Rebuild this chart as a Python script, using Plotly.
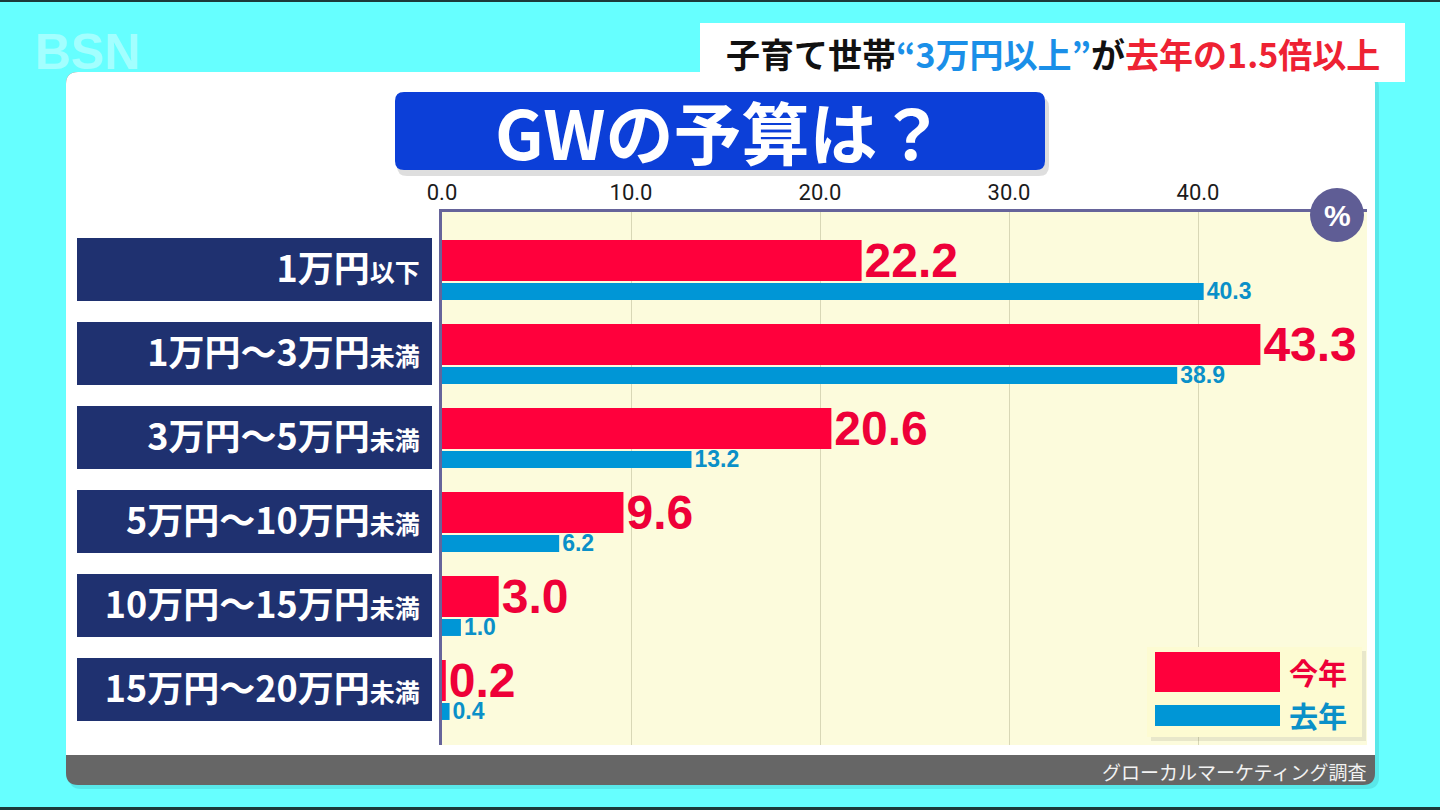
import plotly.graph_objects as go

# -------------------------------
# Data (read off the broadcast graphic)
# -------------------------------
cat_main = ["1万円", "1万円～3万円", "3万円～5万円", "5万円～10万円", "10万円～15万円", "15万円～20万円"]
cat_suffix = ["以下", "未満", "未満", "未満", "未満", "未満"]
this_year = [22.2, 43.3, 20.6, 9.6, 3.0, 0.2]
last_year = [40.3, 38.9, 13.2, 6.2, 1.0, 0.4]
series_names = ["今年", "去年"]
x_ticks = [0, 10, 20, 30, 40]

RED = "#ff003c"
RED_TXT = "#ee0038"
BLUE = "#0096d6"
BLUE_TXT = "#0a90c8"
NAVY = "#1f3170"
AXIS = "#66649a"
JP = "Noto Sans CJK JP"

# figure / plot-area geometry in pixels
W, H = 1440, 810
PL, PR, PT, PB = 442, 1367, 212, 745


def px_x(px):
    return (px - PL) / (PR - PL)


def px_y(py):
    return (PB - py) / (PB - PT)


def rrect(x0, y0, x1, y1, r):
    # rounded rectangle path in paper coords, given pixel corners
    pts = [
        ("M", [(x0 + r, y0)]), ("L", [(x1 - r, y0)]), ("Q", [(x1, y0), (x1, y0 + r)]),
        ("L", [(x1, y1 - r)]), ("Q", [(x1, y1), (x1 - r, y1)]),
        ("L", [(x0 + r, y1)]), ("Q", [(x0, y1), (x0, y1 - r)]),
        ("L", [(x0, y0 + r)]), ("Q", [(x0, y0), (x0 + r, y0)]),
    ]
    out = ""
    for cmd, ps in pts:
        out += cmd + " ".join(f"{px_x(a):.5f},{px_y(b):.5f}" for a, b in ps) + " "
    return out + "Z"


def box(x0, y0, x1, y1, color, layer="below"):
    return dict(type="rect", xref="paper", yref="paper", layer=layer,
                x0=px_x(x0), x1=px_x(x1), y0=px_y(y1), y1=px_y(y0),
                fillcolor=color, line=dict(width=0))


def path(p, color, layer="below"):
    return dict(type="path", xref="paper", yref="paper", layer=layer,
                path=p, fillcolor=color, line=dict(width=0))


def note(px, py, text, size, color, family=JP, anchor="center"):
    return dict(xref="paper", yref="paper", x=px_x(px), y=px_y(py),
                xanchor=anchor, yanchor="middle", text=text, showarrow=False,
                font=dict(family=family, size=size, color=color))


rows = list(range(len(cat_main)))
ticktext = [f"<b>{m}<span style='font-size:25px'>{s}</span></b>" for m, s in zip(cat_main, cat_suffix)]

fig = go.Figure()
fig.add_trace(go.Bar(
    y=rows, x=this_year, orientation="h", name=series_names[0],
    marker=dict(color=RED, line=dict(width=0)),
    offset=-0.351, width=0.488,
    texttemplate="%{x:.1f}", textposition="outside", constraintext="none",
    textfont=dict(family="Liberation Sans", size=48, color=RED_TXT, weight="bold"),
    cliponaxis=False,
))
fig.add_trace(go.Bar(
    y=rows, x=last_year, orientation="h", name=series_names[1],
    marker=dict(color=BLUE, line=dict(width=0)),
    offset=0.161, width=0.202,
    texttemplate="%{x:.1f}", textposition="outside", constraintext="none",
    textfont=dict(family="Liberation Sans", size=23, color=BLUE_TXT, weight="bold"),
    cliponaxis=False,
))

shapes = [
    # frame lines
    box(0, 0, W, 2, "#1c3b3b"),
    box(0, 807, W, H, "#1c3b3b"),
    # panel shadow, footer, white panel
    path(rrect(69, 76, 1379, 789, 12), "rgba(0,60,70,0.12)"),
    path(rrect(66, 72, 1375, 785, 12), "#666666"),
    path(rrect(66, 72, 1375, 755, 12), "#ffffff"),
    box(66, 740, 1375, 755, "#ffffff"),
    # cream plot area
    box(PL, PT, PR, PB, "#fcfbdc"),
    # title shadow + box
    path(rrect(397, 97, 1049, 176, 10), "rgba(0,0,0,0.13)"),
    path(rrect(395, 92, 1045, 170, 9), "#0c3fd8"),
    # caption box
    box(700, 23, 1405, 82, "#ffffff", layer="above"),
]
# navy category label boxes
for i in rows:
    shapes.append(dict(type="rect", xref="paper", yref="y", layer="below",
                       x0=px_x(77), x1=px_x(432), y0=i - 0.375, y1=i + 0.375,
                       fillcolor=NAVY, line=dict(width=0)))
# percent badge
shapes.append(dict(type="circle", xref="paper", yref="paper", layer="above",
                   x0=px_x(1310), x1=px_x(1364), y0=px_y(242), y1=px_y(188),
                   fillcolor="#5f5d95", line=dict(width=0)))
# legend box with swatches
shapes += [
    box(1151, 651, 1366, 741, "rgba(0,0,0,0.08)", layer="above"),
    box(1147, 647, 1362, 737, "#fdfbd2", layer="above"),
    box(1155, 652, 1280, 692, RED, layer="above"),
    box(1155, 705, 1280, 726, BLUE, layer="above"),
]

annotations = [
    note(88, 52, "<b>BSN</b>", 50, "rgba(255,255,255,0.4)", family="Liberation Sans"),
    note(1053, 53, "<b>子育て世帯<span style='color:#1a8fe8'>“3万円以上”</span>が"
                   "<span style='color:#ee2233'>去年の1.5倍以上</span></b>", 34, "#111111"),
    note(720, 131, "<b>GWの予算は？</b>", 68, "#ffffff"),
    note(1337, 215, "<b>%</b>", 30, "#ffffff", family="Liberation Sans"),
    note(1287, 672, f"<b>{series_names[0]}</b>", 29, RED_TXT, anchor="left"),
    note(1287, 715, f"<b>{series_names[1]}</b>", 29, BLUE_TXT, anchor="left"),
    note(1368, 771, "グローカルマーケティング調査", 19, "#f2f2f2", anchor="right"),
]

fig.update_layout(
    width=W, height=H,
    margin=dict(l=PL, r=W - PR, t=PT, b=H - PB, autoexpand=False),
    paper_bgcolor="#66ffff",
    plot_bgcolor="rgba(0,0,0,0)",
    barmode="overlay",
    showlegend=False,
    shapes=shapes,
    annotations=annotations,
    xaxis=dict(
        side="top", range=[0, (PR - PL) / 18.9],
        tickvals=x_ticks, tickformat=".1f", ticks="",
        tickfont=dict(family="Roboto", size=22, color="#1b1b1b"),
        showgrid=True, gridcolor="#d8d7b6", gridwidth=1,
        showline=True, linecolor=AXIS, linewidth=3,
        zeroline=False, fixedrange=True,
    ),
    yaxis=dict(
        range=[5.661, -0.684],
        tickvals=rows, ticktext=ticktext, ticks="",
        ticklabelstandoff=12,
        tickfont=dict(family=JP, size=36, color="#ffffff"),
        showgrid=False, zeroline=False,
        showline=True, linecolor=AXIS, linewidth=3,
        fixedrange=True,
    ),
)

fig.write_html("out.html", config={"displayModeBar": False},
               post_script="document.body.style.margin='0';")
